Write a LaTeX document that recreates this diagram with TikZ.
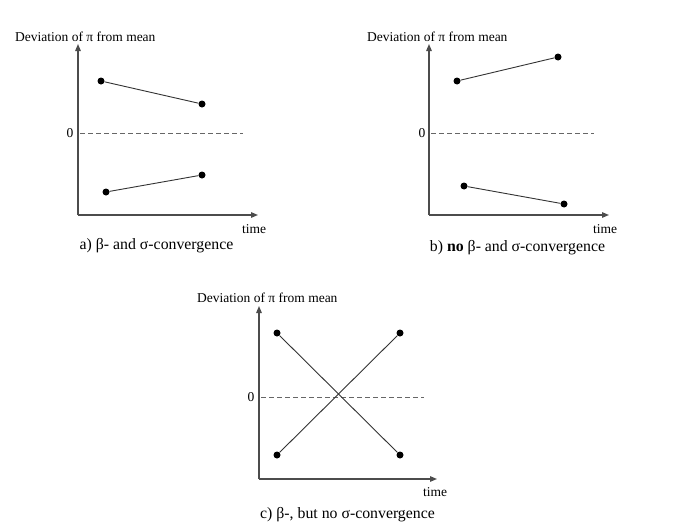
\documentclass[tikz,border=0pt]{standalone}
\usepackage{fontspec}
\setmainfont{Liberation Serif}
\usetikzlibrary{arrows.meta}
\begin{document}
\begin{tikzpicture}[x=1pt,y=-1pt,
  axis/.style={draw=black!70,line width=1.3pt,-{Triangle[length=7pt,width=5.5pt]}},
  zeroline/.style={draw=black!60,line width=0.8pt,dash pattern=on 5pt off 3pt},
  dataline/.style={draw=black!80,line width=0.9pt},
  dot/.style={circle,fill=black,inner sep=0pt,minimum size=7pt},
  ttl/.style={font=\fontsize{13.5}{15}\selectfont,anchor=west,inner sep=0pt},
  captxt/.style={font=\fontsize{15.8}{18}\selectfont,inner sep=0pt},
  tlab/.style={font=\fontsize{13.5}{15}\selectfont,inner sep=0pt}]
\useasboundingbox (0,0) rectangle (696,530);
\fill[white] (0,0) rectangle (696,530);

% ---------- panel a ----------
\coordinate (aO) at (78,215);
\coordinate (aY) at (78,44);
\coordinate (aX) at (258,215);
\coordinate (aZl) at (80,133);
\coordinate (aZr) at (243,133);
\draw[axis] (aO) -- (aY);
\draw[axis] (aO) -- (aX);
\draw[zeroline] (aZl) -- (aZr);
\node[tlab] (a0) at (70,133) {0};
\node[ttl] (aT) at (15,37) {Deviation of π from mean};
\node[tlab,anchor=west] (atime) at (242,229) {time};
\node[captxt] (acap) at (156.5,246) {a) β- and σ-convergence};
\node[dot] (a1) at (101,81) {};
\node[dot] (a2) at (202,104) {};
\node[dot] (a3) at (106,192) {};
\node[dot] (a4) at (202,175) {};
\draw[dataline] (a1) -- (a2);
\draw[dataline] (a3) -- (a4);

% ---------- panel b ----------
\coordinate (bO) at (429,215);
\coordinate (bY) at (429,44);
\coordinate (bX) at (609,215);
\coordinate (bZl) at (431,133);
\coordinate (bZr) at (594,133);
\draw[axis] (bO) -- (bY);
\draw[axis] (bO) -- (bX);
\draw[zeroline] (bZl) -- (bZr);
\node[tlab] (b0) at (422,133) {0};
\node[ttl] (bT) at (367,37) {Deviation of π from mean};
\node[tlab,anchor=west] (btime) at (593,229) {time};
\node[captxt] (bcap) at (517.5,248) {b) \textbf{no} β- and σ-convergence};
\node[dot] (b1) at (457,81) {};
\node[dot] (b2) at (558,57) {};
\node[dot] (b3) at (464,186) {};
\node[dot] (b4) at (564,204) {};
\draw[dataline] (b1) -- (b2);
\draw[dataline] (b3) -- (b4);

% ---------- panel c ----------
\coordinate (cO) at (259,479);
\coordinate (cY) at (259,306);
\coordinate (cX) at (437,479);
\coordinate (cZl) at (261,397);
\coordinate (cZr) at (424,397);
\draw[axis] (cO) -- (cY);
\draw[axis] (cO) -- (cX);
\draw[zeroline] (cZl) -- (cZr);
\node[tlab] (c0) at (251,397) {0};
\node[ttl] (cT) at (197,298) {Deviation of π from mean};
\node[tlab,anchor=west] (ctime) at (423,492) {time};
\node[captxt] (ccap) at (347.5,515) {c) β-, but no σ-convergence};
\node[dot] (c1) at (277,333) {};
\node[dot] (c2) at (400,333) {};
\node[dot] (c3) at (277,455) {};
\node[dot] (c4) at (400,455) {};
\draw[dataline] (c1) -- (c4);
\draw[dataline] (c3) -- (c2);
\end{tikzpicture}
\end{document}
